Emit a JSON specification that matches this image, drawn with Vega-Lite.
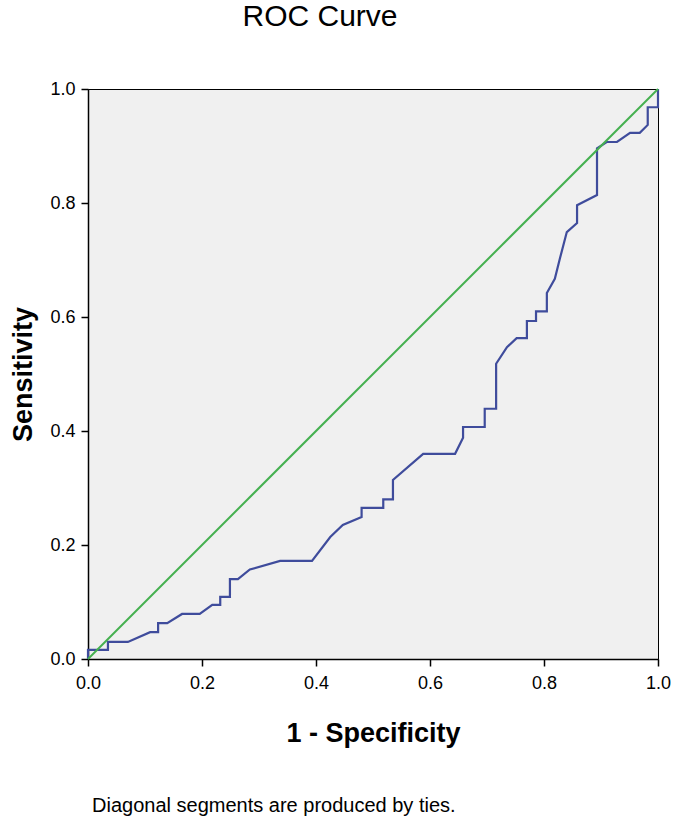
{
  "$schema": "https://vega.github.io/schema/vega-lite/v6.json",
  "autosize": {"type": "none"},
  "padding": {"left": 88, "top": 89, "right": 17, "bottom": 165},
  "width": 570,
  "height": 570,
  "background": "white",
  "title": {
    "text": "ROC Curve",
    "anchor": "middle",
    "frame": "group",
    "font": "Liberation Sans",
    "fontSize": 30,
    "fontWeight": "normal",
    "color": "black",
    "baseline": "top",
    "dx": -53,
    "offset": 48
  },
  "config": {
    "view": {"fill": "#f0f0f0", "stroke": "black", "strokeWidth": 1},
    "axis": {
      "labelFont": "Liberation Sans",
      "labelFontSize": 18,
      "labelColor": "black",
      "labelFlush": false,
      "titleFont": "Liberation Sans",
      "titleFontSize": 27,
      "titleFontWeight": "bold",
      "titleColor": "black",
      "domainColor": "black",
      "domainWidth": 1.5,
      "tickColor": "black",
      "tickWidth": 1.5,
      "tickSize": 7,
      "grid": false
    }
  },
  "datasets": {
    "roc": [
      {"i": 0, "fpr": 0, "tpr": 0},
      {"i": 1, "fpr": 0, "tpr": 0.016},
      {"i": 2, "fpr": 0.035, "tpr": 0.016},
      {"i": 3, "fpr": 0.035, "tpr": 0.03},
      {"i": 4, "fpr": 0.07, "tpr": 0.03},
      {"i": 5, "fpr": 0.109, "tpr": 0.047},
      {"i": 6, "fpr": 0.123, "tpr": 0.047},
      {"i": 7, "fpr": 0.123, "tpr": 0.063},
      {"i": 8, "fpr": 0.139, "tpr": 0.063},
      {"i": 9, "fpr": 0.165, "tpr": 0.079},
      {"i": 10, "fpr": 0.196, "tpr": 0.079},
      {"i": 11, "fpr": 0.218, "tpr": 0.095},
      {"i": 12, "fpr": 0.232, "tpr": 0.095},
      {"i": 13, "fpr": 0.232, "tpr": 0.109},
      {"i": 14, "fpr": 0.249, "tpr": 0.109},
      {"i": 15, "fpr": 0.249, "tpr": 0.14},
      {"i": 16, "fpr": 0.263, "tpr": 0.14},
      {"i": 17, "fpr": 0.284, "tpr": 0.157},
      {"i": 18, "fpr": 0.337, "tpr": 0.172},
      {"i": 19, "fpr": 0.393, "tpr": 0.172},
      {"i": 20, "fpr": 0.425, "tpr": 0.214},
      {"i": 21, "fpr": 0.447, "tpr": 0.235},
      {"i": 22, "fpr": 0.48, "tpr": 0.249},
      {"i": 23, "fpr": 0.48, "tpr": 0.265},
      {"i": 24, "fpr": 0.518, "tpr": 0.265},
      {"i": 25, "fpr": 0.518, "tpr": 0.28},
      {"i": 26, "fpr": 0.535, "tpr": 0.28},
      {"i": 27, "fpr": 0.535, "tpr": 0.314},
      {"i": 28, "fpr": 0.588, "tpr": 0.36},
      {"i": 29, "fpr": 0.644, "tpr": 0.36},
      {"i": 30, "fpr": 0.658, "tpr": 0.388},
      {"i": 31, "fpr": 0.658, "tpr": 0.407},
      {"i": 32, "fpr": 0.696, "tpr": 0.407},
      {"i": 33, "fpr": 0.696, "tpr": 0.439},
      {"i": 34, "fpr": 0.716, "tpr": 0.439},
      {"i": 35, "fpr": 0.716, "tpr": 0.518},
      {"i": 36, "fpr": 0.735, "tpr": 0.547},
      {"i": 37, "fpr": 0.752, "tpr": 0.563},
      {"i": 38, "fpr": 0.77, "tpr": 0.563},
      {"i": 39, "fpr": 0.77, "tpr": 0.593},
      {"i": 40, "fpr": 0.786, "tpr": 0.593},
      {"i": 41, "fpr": 0.786, "tpr": 0.61},
      {"i": 42, "fpr": 0.805, "tpr": 0.61},
      {"i": 43, "fpr": 0.805, "tpr": 0.642},
      {"i": 44, "fpr": 0.819, "tpr": 0.667},
      {"i": 45, "fpr": 0.828, "tpr": 0.703},
      {"i": 46, "fpr": 0.84, "tpr": 0.749},
      {"i": 47, "fpr": 0.858, "tpr": 0.765},
      {"i": 48, "fpr": 0.858, "tpr": 0.796},
      {"i": 49, "fpr": 0.893, "tpr": 0.814},
      {"i": 50, "fpr": 0.893, "tpr": 0.896},
      {"i": 51, "fpr": 0.91, "tpr": 0.907},
      {"i": 52, "fpr": 0.928, "tpr": 0.907},
      {"i": 53, "fpr": 0.951, "tpr": 0.923},
      {"i": 54, "fpr": 0.968, "tpr": 0.923},
      {"i": 55, "fpr": 0.982, "tpr": 0.937},
      {"i": 56, "fpr": 0.982, "tpr": 0.968},
      {"i": 57, "fpr": 1.0, "tpr": 0.968},
      {"i": 58, "fpr": 1.0, "tpr": 1.0}
    ],
    "ref": [
      {"i": 0, "fpr": 0, "tpr": 0},
      {"i": 1, "fpr": 1, "tpr": 1}
    ],
    "note": [
      {"label": "Diagonal segments are produced by ties."}
    ]
  },
  "layer": [
    {
      "data": {"name": "roc"},
      "mark": {"type": "line", "color": "#3f4c9c", "strokeWidth": 2.2, "interpolate": "linear"},
      "encoding": {
        "x": {
          "field": "fpr", "type": "quantitative",
          "scale": {"domain": [0, 1], "nice": false, "zero": false},
          "axis": {"title": "1 - Specificity", "values": [0, 0.2, 0.4, 0.6, 0.8, 1], "format": ".1f", "labelPadding": 8, "titlePadding": 28}
        },
        "y": {
          "field": "tpr", "type": "quantitative",
          "scale": {"domain": [0, 1], "nice": false, "zero": false},
          "axis": {"title": "Sensitivity", "values": [0, 0.2, 0.4, 0.6, 0.8, 1], "format": ".1f", "labelPadding": 6, "titlePadding": 12}
        },
        "order": {"field": "i", "type": "quantitative"}
      }
    },
    {
      "data": {"name": "ref"},
      "mark": {"type": "line", "color": "#45b050", "strokeWidth": 2},
      "encoding": {
        "x": {"field": "fpr", "type": "quantitative"},
        "y": {"field": "tpr", "type": "quantitative"},
        "order": {"field": "i", "type": "quantitative"}
      }
    },
    {
      "data": {"name": "note"},
      "mark": {"type": "text", "font": "Liberation Sans", "fontSize": 20, "color": "black", "align": "center", "baseline": "middle", "clip": false},
      "encoding": {
        "x": {"datum": 0.326, "type": "quantitative"},
        "y": {"datum": -0.258, "type": "quantitative"},
        "text": {"field": "label", "type": "nominal"}
      }
    }
  ]
}
